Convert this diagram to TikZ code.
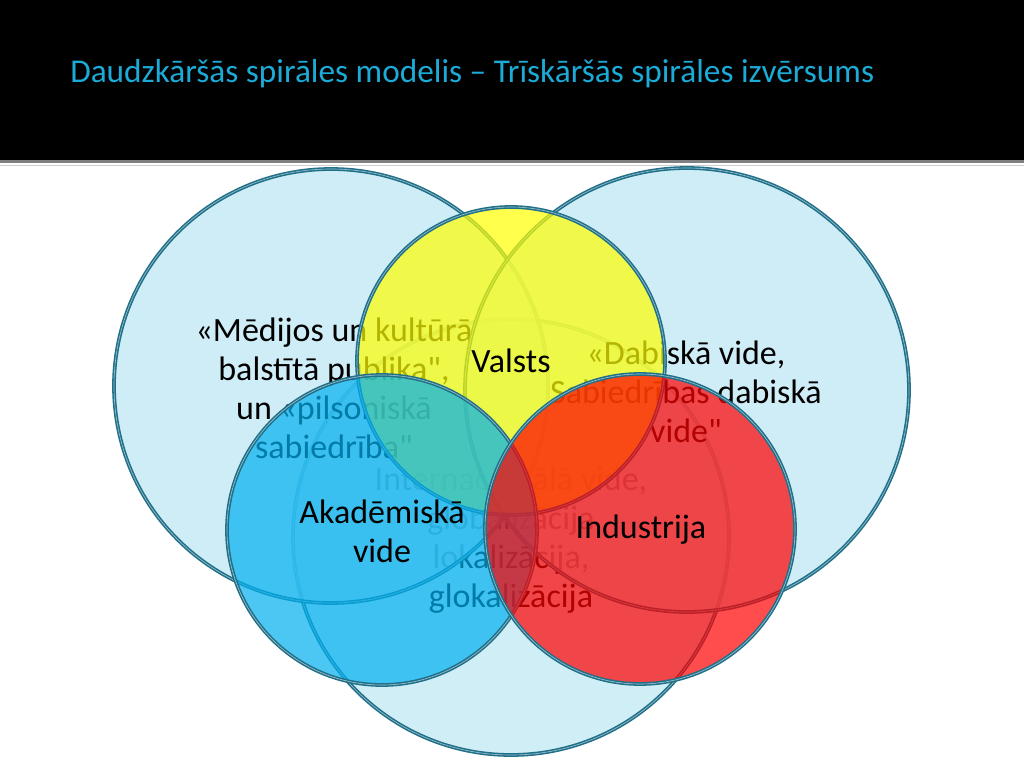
\documentclass[tikz,border=0pt]{standalone}
\usepackage{fontspec}
\setmainfont{Carlito}[Ligatures=TeXOff]
\definecolor{skyfill}{RGB}{208,238,246}
\definecolor{skybase}{RGB}{192,232,243}
\definecolor{ringc}{RGB}{32,112,138}
\definecolor{titlec}{RGB}{28,170,214}
\definecolor{valstsc}{RGB}{255,255,0}
\definecolor{akadc}{RGB}{0,176,240}
\definecolor{indc}{RGB}{255,0,0}

\begin{document}
\begin{tikzpicture}[x=0.009766in,y=-0.009766in,
    ring/.style={draw=ringc,line width=1.1pt,double=ringc!45!white,double distance=0.45pt},
    lbl/.style={align=center,inner sep=0,font=\fontsize{24}{27.5}\selectfont}]
        \useasboundingbox (0,0) rectangle (1024,768);
        \fill[white] (0,0) rectangle (1024,768);
        % title band
        \fill[black] (0,0) rectangle (1024,160);
        \fill[black!50] (0,160) rectangle (1024,162.5);
        \fill[black!20] (0,164.5) rectangle (1024,166);
        \node[anchor=base west,inner sep=0,text=titlec,font=\fontsize{23.5}{28}\selectfont] (title) at (70,83) {Daudzkāršās spirāles modelis – Trīskāršās spirāles izvērsums};
        % big circles
        \fill[skyfill] (511,537) circle (218);
        \draw[ring] (511,537) circle (218);
        \node[lbl] (globe) at (511,540) {Internacionālā vide,\\globalizācija\\lokalizācija,\\glokalizācija};
        \fill[skybase,fill opacity=0.75] (331,386) circle (217);
        \draw[ring] (331,386) circle (217);
        \node[lbl] (media) at (334,388) {«Mēdijos un kultūrā\\balstītā publika",\\un «pilsoniskā\\sabiedrība"};
        \fill[skybase,fill opacity=0.75] (687,390) circle (222);
        \draw[ring] (687,390) circle (222);
        \node[lbl] (nature) at (686,392) {«Dabiskā vide,\\Sabiedrības dabiskā\\vide"};
        % coloured circles
        \filldraw[ring,fill=valstsc,fill opacity=0.7] (511,361) circle (154);
        \node[lbl] (valsts) at (511,361) {Valsts};
        \filldraw[ring,fill=akadc,fill opacity=0.7] (382,530) circle (155);
        \node[lbl] (akad) at (382,531) {Akadēmiskā\\vide};
        \filldraw[ring,fill=indc,fill opacity=0.7] (640,529) circle (155);
        \node[lbl] (ind) at (641,530) {Industrija};
\end{tikzpicture}
\end{document}
